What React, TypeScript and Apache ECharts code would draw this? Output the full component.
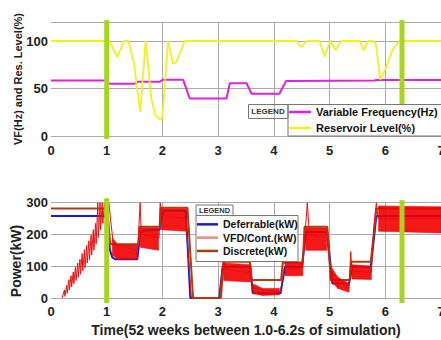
import React, { useEffect, useRef } from "react";
import * as echarts from "echarts";

// ---------- data ----------
const xTicks = [0, 1, 2, 3, 4, 5, 6, 7];

// top chart
const vfHz: number[][] = [
  [0, 58.5], [1.0, 58.5], [1.02, 55], [1.5, 55], [1.55, 57], [1.95, 57], [2.01, 59.3],
  [2.37, 59.3], [2.49, 39.5], [3.15, 39.5], [3.21, 55.5], [3.51, 55.5], [3.6, 44.5],
  [4.1, 44.5], [4.22, 58], [5.8, 58.5], [5.85, 59], [7, 59],
];
const reservoirPct: number[][] = [
  [0, 100], [1.05, 100], [1.19, 83], [1.31, 100], [1.39, 100], [1.49, 76], [1.6, 25],
  [1.7, 100], [1.8, 40], [1.87, 22], [1.97, 17], [2.0, 20], [2.1, 100], [2.19, 76],
  [2.25, 78], [2.4, 100], [4.41, 100], [4.49, 93.4], [4.59, 100], [4.82, 100],
  [4.91, 83.5], [5.01, 100], [5.11, 90.5], [5.21, 100], [5.54, 100], [5.61, 90],
  [5.69, 100], [5.78, 100], [5.83, 97], [5.91, 59], [6.02, 73], [6.13, 90.5], [6.25, 100],
  [7, 100],
];
const markerTop1: number[][] = [[1, -3], [1, 122]];
const markerTop2: number[][] = [[6.3, 33], [6.3, 122]];

// bottom chart
const deferrableKW: number[][] = [
  [0, 258], [1.0, 258], [1.03, 200], [1.06, 150], [1.1, 128], [1.15, 122], [1.55, 122],
  [1.6, 200], [1.65, 212], [1.95, 215], [2.0, 265], [2.05, 275], [2.42, 275], [2.5, 0],
  [3.02, 0], [3.08, 98], [3.58, 98], [3.62, 15], [4.12, 15], [4.2, 98], [4.5, 98],
  [4.58, 208], [4.96, 208], [5.05, 46], [5.35, 46], [5.41, 98], [5.74, 98], [5.84, 258],
  [7.0, 258],
];
const discreteKW: number[][] = [
  [0, 282], [1.0, 282], [1.03, 240], [1.06, 175], [1.08, 169], [1.57, 169], [1.59, 224],
  [1.95, 224], [1.97, 284], [2.45, 284], [2.55, 0], [3.05, 0], [3.1, 114], [3.57, 114],
  [3.6, 57], [4.13, 57], [4.16, 112], [4.52, 112], [4.55, 224], [4.96, 224], [5.02, 57],
  [5.36, 57], [5.39, 114], [5.74, 114], [5.84, 282], [7.0, 282],
];
const vfdKW: number[][] = [
  [0.2, 0], [0.24, 25], [0.25, 5], [0.28, 40], [0.29, 15], [0.32, 57], [0.33, 25],
  [0.36, 70], [0.37, 35], [0.4, 82], [0.41, 45], [0.44, 98], [0.45, 55], [0.48, 110],
  [0.49, 65], [0.52, 122], [0.53, 75], [0.56, 140], [0.57, 85], [0.6, 152], [0.61, 95],
  [0.64, 165], [0.65, 110], [0.68, 180], [0.69, 120], [0.72, 198], [0.73, 135],
  [0.76, 215], [0.77, 150], [0.8, 235], [0.81, 170], [0.84, 300], [0.85, 190],
  [0.88, 300], [0.89, 215], [0.92, 300], [0.93, 235], [0.96, 300], [0.97, 250],
  [1.0, 300], [1.04, 300], [1.08, 230], [1.12, 170], [1.55, 150], [1.57, 200], [1.6, 300],
  [1.62, 200], [1.94, 190], [1.96, 300], [1.99, 260], [2.42, 250], [2.47, 120], [2.52, 0],
  [3.02, 0], [3.08, 100], [3.1, 135], [3.14, 90], [3.58, 80], [3.62, 30], [4.12, 20],
  [4.18, 90], [4.52, 95], [4.56, 200], [4.6, 300], [4.64, 200], [4.95, 190], [5.0, 110],
  [5.05, 80], [5.35, 30], [5.38, 146], [5.4, 85], [5.75, 80], [5.8, 230], [5.84, 300],
  [5.87, 250], [7.0, 250],
];
// oscillation envelopes of the VFD signal: [x, low, high]
const vfdBand1 = [[1.1, 135, 190], [1.2, 122, 168], [1.55, 122, 166]];
const vfdBand2 = [[1.6, 160, 221], [1.93, 150, 221]];
const vfdBand3 = [[1.98, 215, 281], [2.43, 210, 281]];
const vfdBand4 = [[3.1, 55, 110], [3.58, 50, 105]];
const vfdBand5 = [[3.62, 15, 45], [3.8, 8, 30], [4.1, 10, 30]];
const vfdBand6 = [[4.2, 70, 118], [4.52, 70, 110]];
const vfdBand7 = [[4.57, 150, 221], [4.95, 150, 220]];
const vfdBand8 = [[5.02, 55, 100], [5.15, 30, 65], [5.35, 18, 45]];
const vfdBand9 = [[5.4, 60, 105], [5.75, 58, 100]];
const vfdBand10 = [[5.88, 210, 290], [7.0, 205, 287]];
const markerBot1: number[][] = [[1, -16], [1, 314]];
const markerBot2: number[][] = [[6.3, -16], [6.3, 308]];

const FONT = "'Liberation Sans', Arial, Helvetica, sans-serif";
const GREEN = "#a6d61e";
const GRID_LINE = "#ababab";

function bandQuads() {
  const segs = [vfdBand1, vfdBand2, vfdBand3, vfdBand4, vfdBand5, vfdBand6, vfdBand7, vfdBand8, vfdBand9, vfdBand10];
  const out: number[][] = [];
  segs.forEach((s) => {
    for (let i = 0; i < s.length - 1; i++) {
      out.push([s[i][0], s[i][1], s[i][2], s[i + 1][0], s[i + 1][1], s[i + 1][2]]);
    }
  });
  return out;
}

function xAxisCfg(gridIndex: number, withName: boolean, margin: number) {
  return {
    type: "value",
    gridIndex,
    min: xTicks[0],
    max: xTicks[xTicks.length - 1],
    interval: 1,
    axisLine: { show: false },
    axisTick: { show: false },
    axisLabel: { fontSize: 13, fontWeight: "bold", color: "#222", fontFamily: FONT, margin },
    splitLine: { show: true, showMinLine: false, lineStyle: { color: GRID_LINE, width: 1 } },
    name: withName ? "Time(52 weeks between 1.0-6.2s of simulation)" : "",
    nameLocation: "middle",
    nameGap: 25,
    nameTextStyle: { fontSize: 14, fontWeight: "bold", color: "#222", fontFamily: FONT },
  };
}

function lineSeries(name: string, data: number[][], color: string, width: number, xi: number, z: number) {
  return {
    name,
    type: "line",
    xAxisIndex: xi,
    yAxisIndex: xi,
    data,
    symbol: "none",
    color,
    itemStyle: { color },
    lineStyle: { color, width },
    z,
  };
}

function markerSeries(data: number[][], xi: number) {
  return {
    name: "marker",
    type: "line",
    xAxisIndex: xi,
    yAxisIndex: xi,
    data,
    symbol: "none",
    clip: false,
    lineStyle: { color: GREEN, width: 5 },
    itemStyle: { color: GREEN },
    z: 6,
    silent: true,
  };
}

export default function App() {
  const ref = useRef<HTMLDivElement>(null);
  useEffect(() => {
    if (!ref.current) return;
    const chart = echarts.init(ref.current, undefined, { renderer: "svg" });
    const option: any = {
      animation: false,
      backgroundColor: "#ffffff",
      textStyle: { fontFamily: FONT },
      grid: [
        { left: 51, right: 0, top: 22, height: 114, outerBoundsMode: "none", containLabel: false },
        { left: 51, right: 0, top: 202.7, height: 95.3, outerBoundsMode: "none", containLabel: false },
      ],
      xAxis: [xAxisCfg(0, false, 8), xAxisCfg(1, true, 7)],
      yAxis: [
        {
          type: "value",
          gridIndex: 0,
          min: 0,
          max: 120,
          interval: 50,
          axisLine: { show: false },
          axisTick: { show: false },
          axisLabel: { fontSize: 13, fontWeight: "bold", color: "#222", fontFamily: FONT, margin: 3, showMaxLabel: false },
          splitLine: { show: true, lineStyle: { color: GRID_LINE, width: 1 } },
        },
        {
          type: "value",
          gridIndex: 1,
          min: 0,
          max: 300,
          interval: 100,
          axisLine: { show: false },
          axisTick: { show: false },
          axisLabel: { fontSize: 13, fontWeight: "bold", color: "#222", fontFamily: FONT, margin: 3 },
          splitLine: { show: true, lineStyle: { color: GRID_LINE, width: 1 } },
        },
      ],
      legend: [
        {
          data: ["Variable Frequency(Hz)", "Reservoir Level(%)"],
          orient: "vertical",
          left: 289,
          top: 104,
          itemWidth: 22,
          itemHeight: 2.5,
          icon: "rect",
          itemGap: 0,
          padding: 0,
          selectedMode: false,
          z: 20,
          textStyle: { fontSize: 11, fontWeight: "bold", color: "#111", lineHeight: 16, fontFamily: FONT },
        },
        {
          data: [
            "Deferrable(kW)",
            { name: "VFD/Cont.(kW)", itemStyle: { color: "#ec8a8a" } },
            "Discrete(kW)",
          ],
          orient: "vertical",
          left: 197,
          top: 217.7,
          itemWidth: 21,
          itemHeight: 2.5,
          icon: "rect",
          itemGap: 0,
          padding: 0,
          selectedMode: false,
          z: 20,
          textStyle: { fontSize: 10.5, fontWeight: "bold", color: "#111", lineHeight: 13.3, fontFamily: FONT },
        },
      ],
      graphic: [
        { type: "rect", z: 10, shape: { x: 288, y: 104.5, width: 160, height: 31.5 }, style: { fill: "#fff", stroke: "#777", lineWidth: 1 } },
        { type: "rect", z: 10, shape: { x: 248.5, y: 104.5, width: 39.5, height: 14 }, style: { fill: "none", stroke: "#777", lineWidth: 1 } },
        { type: "text", z: 11, x: 268, y: 111.5, style: { text: "LEGEND", font: `bold 8px ${FONT}`, fill: "#333", align: "center", verticalAlign: "middle" } },
        { type: "rect", z: 10, shape: { x: 196, y: 215.5, width: 102, height: 46 }, style: { fill: "#fff", stroke: "#777", lineWidth: 1 } },
        { type: "rect", z: 10, shape: { x: 196, y: 205, width: 37, height: 10.5 }, style: { fill: "#fff", stroke: "#777", lineWidth: 1 } },
        { type: "text", z: 11, x: 214.5, y: 210.5, style: { text: "LEGEND", font: `bold 7.5px ${FONT}`, fill: "#333", align: "center", verticalAlign: "middle" } },
        { type: "text", z: 11, x: 18, y: 79, rotation: Math.PI / 2, style: { text: "VF(Hz) and Res. Level(%)", font: `bold 11px ${FONT}`, fill: "#222", align: "center", verticalAlign: "middle" } },
        { type: "text", z: 11, x: 16, y: 261, rotation: Math.PI / 2, style: { text: "Power(kW)", font: `bold 14px ${FONT}`, fill: "#222", align: "center", verticalAlign: "middle" } },
      ],
      series: [
        lineSeries("Variable Frequency(Hz)", vfHz, "#dd22dd", 2, 0, 3),
        lineSeries("Reservoir Level(%)", reservoirPct, "#f2f020", 1.8, 0, 3),
        markerSeries(markerTop1, 0),
        markerSeries(markerTop2, 0),
        lineSeries("Deferrable(kW)", deferrableKW, "#1a1ad0", 2, 1, 2),
        lineSeries("Discrete(kW)", discreteKW, "#a5420f", 2, 1, 3),
        {
          name: "VFD band",
          type: "custom",
          xAxisIndex: 1,
          yAxisIndex: 1,
          data: bandQuads(),
          dimensions: ["x0", "lo0", "hi0", "x1", "lo1", "hi1"],
          encode: { x: [0, 3], y: [1, 2, 4, 5] },
          z: 4,
          silent: true,
          renderItem: (params: any, api: any) => {
            const pts = [
              api.coord([api.value(0), api.value(1)]),
              api.coord([api.value(3), api.value(4)]),
              api.coord([api.value(3), api.value(5)]),
              api.coord([api.value(0), api.value(2)]),
            ];
            return { type: "polygon", shape: { points: pts }, style: { fill: "#f20000", stroke: "#f20000", lineWidth: 0.6, opacity: 0.9 } };
          },
        },
        lineSeries("VFD/Cont.(kW)", vfdKW, "#e81010", 1, 1, 4),
        markerSeries(markerBot1, 1),
        markerSeries(markerBot2, 1),
      ],
    };
    chart.setOption(option);
    return () => chart.dispose();
  }, []);
  return (
    <div
      ref={ref}
      style={{ position: "fixed", left: 0, top: 0, width: 441, height: 340, background: "#fff" }}
    />
  );
}
